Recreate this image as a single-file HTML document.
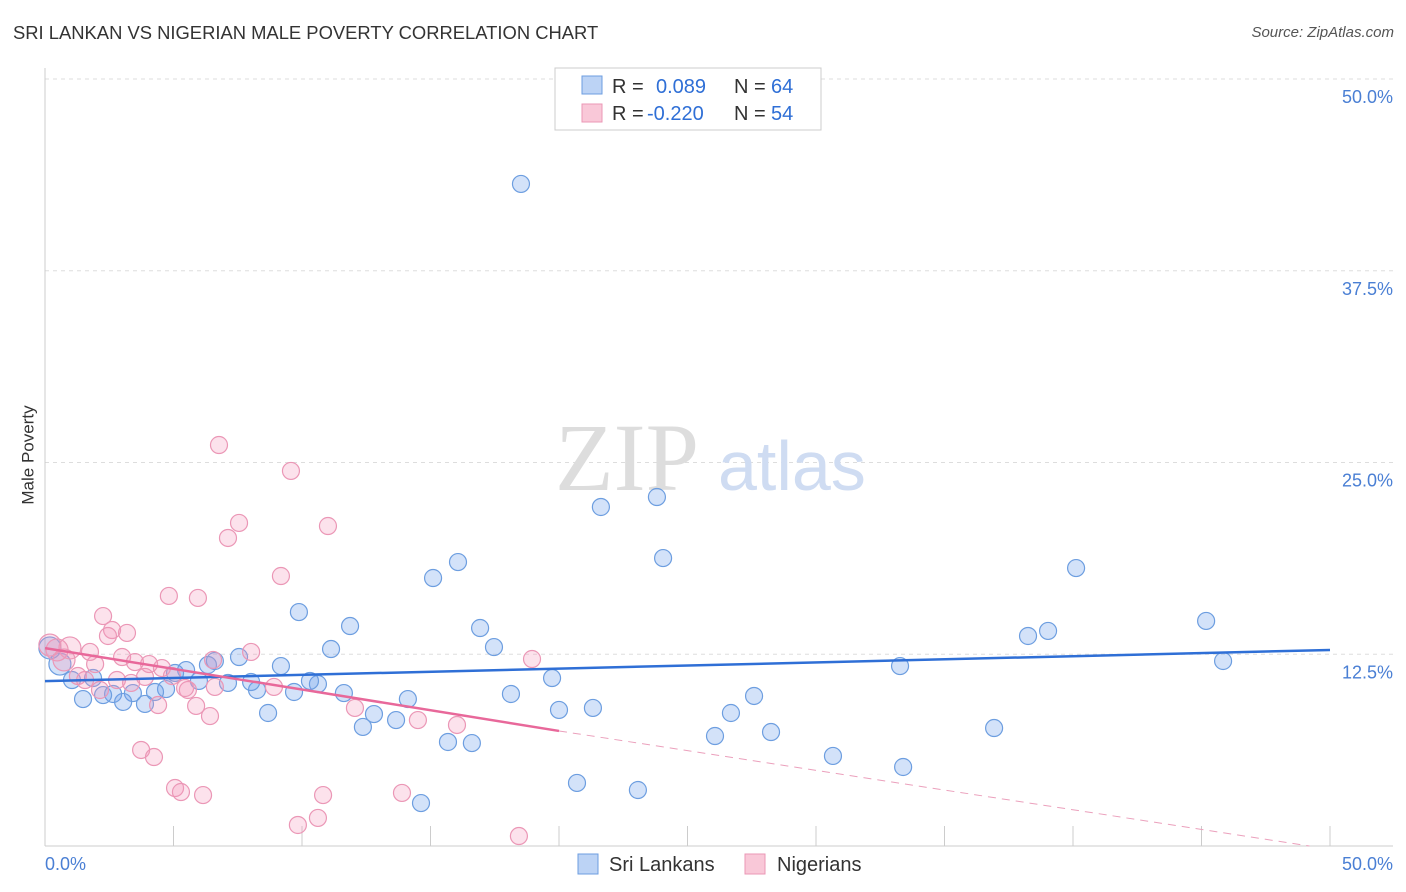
<!DOCTYPE html>
<html><head><meta charset="utf-8"><style>
body{margin:0;background:#fff;font-family:"Liberation Sans",sans-serif;}
#wrap{position:relative;width:1406px;height:892px;overflow:hidden;}
.t{position:absolute;white-space:nowrap;}
</style></head><body>
<div id="wrap">
<div class="t" style="left:13px;top:22px;font-size:18.4px;color:#333;">SRI LANKAN VS NIGERIAN MALE POVERTY CORRELATION CHART</div>
<div class="t" style="right:12px;top:24px;font-size:15px;color:#555;font-style:italic;">Source: ZipAtlas.com</div>
<div class="t" style="left:-21px;top:445px;font-size:17px;color:#333;transform:rotate(-90deg);">Male Poverty</div>
<svg id="svg" width="1406" height="892" style="position:absolute;left:0;top:0"></svg>
</div>
<script>
const xTicks=[0,5,10,15,20,25,30,35,40,45,50];
const yTicks=[12.5,25,37.5,50];
const yTickLabels=["12.5%","25.0%","37.5%","50.0%"];
const blueX=[18.52,21.63,23.81,24.05,16.07,15.10,40.12,45.18,45.84,39.03,38.25,33.27,36.93,33.39,30.66,28.25,27.59,26.69,26.07,23.07,20.70,21.32,20.00,19.73,18.13,17.47,16.93,16.61,15.68,14.63,14.12,13.66,12.80,12.37,11.87,11.63,11.13,10.62,9.88,10.31,9.69,9.18,8.68,8.25,8.02,7.55,7.12,6.61,6.34,5.99,5.49,5.06,4.71,4.28,3.89,3.42,3.04,2.65,2.26,1.87,1.48,1.05,0.58,0.19];
const blueY=[43.16,22.10,22.75,18.77,18.51,17.47,18.12,14.67,12.06,14.02,13.69,11.73,7.69,5.15,5.87,7.43,9.78,8.67,7.17,3.65,4.11,9.00,8.87,10.95,9.91,12.97,14.21,6.71,6.78,2.80,9.58,8.21,8.60,7.76,14.34,9.97,12.84,10.56,15.25,10.76,10.04,11.73,8.67,10.17,10.69,12.32,10.63,12.06,11.80,10.76,11.47,11.28,10.23,10.04,9.26,9.97,9.39,9.91,9.84,10.95,9.58,10.82,11.86,12.91];
const pinkX=[6.77,9.57,7.55,7.12,11.01,9.18,4.82,5.95,2.26,2.61,3.19,2.45,18.95,8.02,6.54,3.00,3.50,4.05,4.55,1.95,1.75,0.97,0.47,0.19,0.74,1.28,1.56,2.80,3.35,3.89,4.94,5.56,6.61,8.91,5.45,2.14,4.40,5.88,6.42,12.06,14.51,16.03,3.74,4.24,5.06,5.29,6.15,10.82,13.89,9.84,10.62,18.44];
const pinkY=[26.14,24.45,21.06,20.08,20.86,17.60,16.30,16.17,14.99,14.08,13.89,13.69,12.19,12.65,12.13,12.32,11.99,11.86,11.60,11.86,12.65,12.91,12.78,13.10,12.13,11.08,10.82,10.82,10.63,11.02,11.08,10.17,10.37,10.37,10.30,10.17,9.19,9.13,8.47,9.00,8.21,7.89,6.26,5.80,3.78,3.52,3.32,3.32,3.46,1.37,1.83,0.65];
const blueTrendX=[0,50], blueTrendY=[10.75,12.78];
const pinkSolidX=[0,20], pinkSolidY=[12.9,7.5];
const pinkDashX=[20,49.2], pinkDashY=[7.5,0];
const X=v=>45+v*25.7, Y=v=>846-v*15.34;
const svg=document.getElementById('svg');const NS='http://www.w3.org/2000/svg';
function mk(tag,attrs,name){const e=document.createElementNS(NS,tag);for(const k in attrs)e.setAttribute(k,attrs[k]);


svg.appendChild(e);return e;}
yTicks.forEach((v,i)=>{mk('line',{x1:45,x2:1393,y1:Y(v),y2:Y(v),stroke:'#ddd','stroke-dasharray':'4,4'},'gridline');
const t=mk('text',{x:1393,y:Y(v)+24,'text-anchor':'end','font-size':18,fill:'#4a7fd4','font-family':'Liberation Sans'},'y-tick-label');t.textContent=yTickLabels[i];});
mk('line',{x1:45,x2:45,y1:68,y2:846,stroke:'#ccc'},'y-axis');
mk('line',{x1:45,x2:1393,y1:846,y2:846,stroke:'#ccc'},'x-axis');
xTicks.forEach(v=>mk('line',{x1:X(v),x2:X(v),y1:826,y2:846,stroke:'#ccc'},'x-tick'));
let t=mk('text',{x:45,y:870,'font-size':18,fill:'#4a7fd4','font-family':'Liberation Sans'},'x-tick-label');t.textContent='0.0%';
t=mk('text',{x:1393,y:870,'text-anchor':'end','font-size':18,fill:'#4a7fd4','font-family':'Liberation Sans'},'x-tick-label');t.textContent='50.0%';
t=mk('text',{x:555,y:490,'font-size':96,fill:'#ddd','font-family':'Liberation Serif'},'watermark-zip');t.textContent='ZIP';
t=mk('text',{x:718,y:490,'font-size':70,fill:'#cfdcf2','font-family':'Liberation Sans'},'watermark-atlas');t.textContent='atlas';
function pts(xs,ys,fill,stroke,name){xs.forEach((x,i)=>{const r=(x<1)?11:8.5;mk('circle',{cx:X(x),cy:Y(ys[i]),r:r,fill:fill,stroke:stroke,'stroke-width':1.2},name);});}
pts(blueX,blueY,'rgba(110,160,235,0.3)','#6d9ee0','sri-lankan-point');
pts(pinkX,pinkY,'rgba(245,150,185,0.28)','#eb97b6','nigerian-point');
mk('line',{x1:X(blueTrendX[0]),y1:Y(blueTrendY[0]),x2:X(blueTrendX[1]),y2:Y(blueTrendY[1]),stroke:'#2f6fd6','stroke-width':2.5},'sri-lankan-trendline');
mk('line',{x1:X(pinkSolidX[0]),y1:Y(pinkSolidY[0]),x2:X(pinkSolidX[1]),y2:Y(pinkSolidY[1]),stroke:'#e8689a','stroke-width':2.5},'nigerian-trendline');
mk('line',{x1:X(pinkDashX[0]),y1:Y(pinkDashY[0]),x2:X(pinkDashX[1]),y2:Y(pinkDashY[1]),stroke:'#eba0bc','stroke-width':1,'stroke-dasharray':'8,6'},'nigerian-trendline-extension');
mk('rect',{x:555,y:68,width:266,height:62,fill:'#fff',stroke:'#ccc'},'legend-box');
mk('rect',{x:582,y:76,width:20,height:18,fill:'#bcd3f5',stroke:'#6d9ee0'},'legend-swatch-blue');
mk('rect',{x:582,y:104,width:20,height:18,fill:'#f9c8d8',stroke:'#eb97b6'},'legend-swatch-pink');
function lt(x,y,s,c,n){const e=mk('text',{x:x,y:y,'font-size':20,fill:c,'font-family':'Liberation Sans'},n);e.textContent=s;}
lt(612,93,'R =','#333','legend-r-label');lt(656,93,'0.089','#2f6fd6','legend-r-blue');lt(734,93,'N =','#333','legend-n-label');lt(771,93,'64','#2f6fd6','legend-n-blue');
lt(612,120,'R =','#333','legend-r-label');lt(647,120,'-0.220','#2f6fd6','legend-r-pink');lt(734,120,'N =','#333','legend-n-label');lt(771,120,'54','#2f6fd6','legend-n-pink');
mk('rect',{x:578,y:854,width:20,height:20,fill:'#bcd3f5',stroke:'#6d9ee0'},'legend-bottom-swatch-blue');
lt(609,871,'Sri Lankans','#333','legend-bottom-sri-lankans');
mk('rect',{x:745,y:854,width:20,height:20,fill:'#f9c8d8',stroke:'#eb97b6'},'legend-bottom-swatch-pink');
lt(777,871,'Nigerians','#333','legend-bottom-nigerians');
</script>
</body></html>
